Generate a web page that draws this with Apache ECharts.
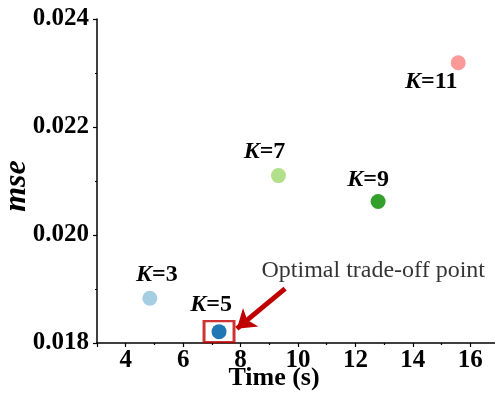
<!DOCTYPE html>
<html>
<head>
<meta charset="utf-8">
<script src="https://cdn.jsdelivr.net/npm/echarts@6/dist/echarts.min.js"></script>
<style>html,body{margin:0;padding:0;background:#fff}#c{width:495px;height:393px}</style>
</head>
<body>
<div id="c"></div>
<script>
// ---- data ----
const kValues = ['3', '5', '7', '9', '11'];
const timeValues = [4.84, 7.25, 9.32, 12.79, 15.58];
const mseValues = [0.01883, 0.01821, 0.02110, 0.02062, 0.02319];
const xTickLabels = [4, 6, 8, 10, 12, 14, 16];
const yTickLabels = ['0.018', '0.020', '0.022', '0.024'];
const annotationText = 'Optimal trade-off point';
const optimalIndex = 1;
const arrowFrom = [9.55, 0.019006];
const arrowTo = [7.87, 0.018265];
const annotationAt = [12.62, 0.019339];

// ---- styles ----
const pointColors = ['#a6cee3', '#1f78b4', '#b2df8a', '#33a02c', '#fb9a99'];
const labelOffsets = [[7, -23], [-8, -27], [-14, -24], [-10, -22], [-27, 19]];
const FONT = "'Liberation Serif','Times New Roman',serif";
const RED = '#c00000';

const chart = echarts.init(document.getElementById('c'), null, {renderer: 'canvas'});
chart.setOption({
  animation: false,
  backgroundColor: '#fff',
  grid: {left: 97, top: 19, width: 402, height: 324, containLabel: false, outerBoundsMode: 'none'},
  xAxis: {
    type: 'value', min: 3, max: 17, splitNumber: 7,
    name: 'Time (s)', nameLocation: 'middle', nameGap: 22, nameMoveOverlap: false,
    nameTextStyle: {fontFamily: FONT, fontWeight: 'bold', fontSize: 26, color: '#000', padding: [0, 48, 0, 0]},
    axisLine: {show: true, onZero: false, lineStyle: {color: '#000', width: 1.5}},
    axisTick: {show: true, length: 4, lineStyle: {color: '#000', width: 1.2}},
    minorTick: {show: true, splitNumber: 2, length: 2, lineStyle: {color: '#000', width: 1.2}},
    splitLine: {show: false},
    axisLabel: {
      margin: 5, fontFamily: FONT, fontWeight: 'bold', fontSize: 25, color: '#000',
      showMinLabel: false, showMaxLabel: false,
      formatter: v => xTickLabels.includes(Math.round(v * 1000) / 1000) ? String(v) : ''
    }
  },
  yAxis: {
    type: 'value', min: 0.018, max: 0.024, interval: 0.002,
    name: 'mse', nameLocation: 'middle', nameGap: 64, nameRotate: 90, nameMoveOverlap: false,
    nameTextStyle: {fontFamily: FONT, fontWeight: 'bold', fontStyle: 'italic', fontSize: 32, color: '#000', padding: [0, 10, 0, 0]},
    axisLine: {show: true, onZero: false, lineStyle: {color: '#000', width: 1.5}},
    axisTick: {show: true, length: 4, lineStyle: {color: '#000', width: 1.2}},
    minorTick: {show: true, splitNumber: 2, length: 2, lineStyle: {color: '#000', width: 1.2}},
    splitLine: {show: false},
    axisLabel: {
      margin: 8, fontFamily: FONT, fontWeight: 'bold', fontSize: 25, color: '#000',
      formatter: v => {
        const s = v.toFixed(3);
        return yTickLabels.includes(s) ? s : '';
      }
    }
  },
  series: [
    {
      type: 'scatter',
      symbolSize: 15,
      z: 3,
      data: timeValues.map((t, i) => ({
        value: [t, mseValues[i]],
        itemStyle: {color: pointColors[i], opacity: 1},
        label: {offset: labelOffsets[i]}
      })),
      label: {
        show: true, position: 'inside',
        formatter: p => '{k|K}{n|=' + kValues[p.dataIndex] + '}',
        rich: {
          k: {fontFamily: FONT, fontWeight: 'bold', fontStyle: 'italic', fontSize: 24, color: '#000'},
          n: {fontFamily: FONT, fontWeight: 'bold', fontSize: 24, color: '#000'}
        }
      }
    },
    {
      type: 'scatter',
      symbol: 'rect',
      symbolSize: [30, 21],
      z: 4,
      silent: true,
      itemStyle: {color: 'rgba(0,0,0,0)', borderColor: RED, borderWidth: 2.5},
      data: [[timeValues[optimalIndex], mseValues[optimalIndex]]]
    },
    {
      type: 'lines',
      coordinateSystem: 'cartesian2d',
      z: 5,
      polyline: false,
      symbol: ['none', 'arrow'],
      symbolSize: [0, 18],
      lineStyle: {color: RED, width: 5, opacity: 1},
      data: [{coords: [arrowFrom, arrowTo]}]
    },
    {
      type: 'scatter',
      symbolSize: 0,
      silent: true,
      data: [annotationAt],
      label: {
        show: true, position: 'inside',
        formatter: annotationText,
        fontFamily: FONT, fontSize: 24, color: '#000'
      }
    }
  ]
});
</script>
</body>
</html>
